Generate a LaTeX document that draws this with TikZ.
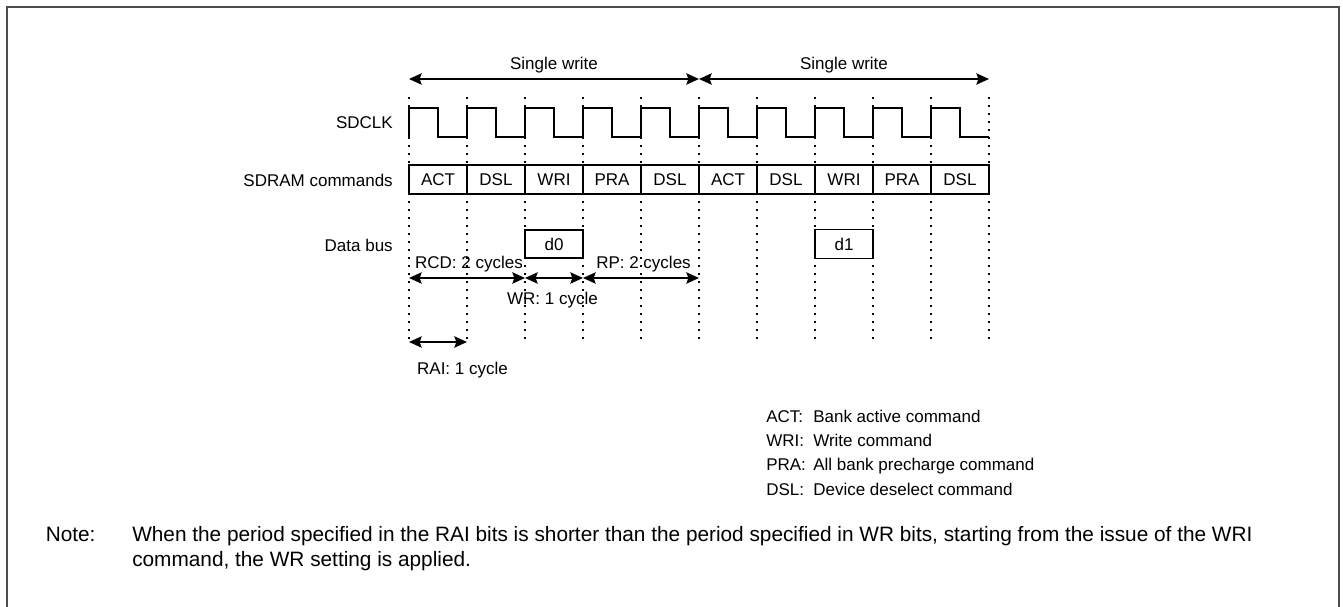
\documentclass[tikz,border=0pt]{standalone}
\usepackage{fontspec}
\setmainfont{Liberation Sans}
\usetikzlibrary{arrows.meta}
\begin{document}
\begin{tikzpicture}[x=0.75pt,y=-0.75pt,
  txt/.style={font=\fontsize{12.75}{15}\selectfont, inner sep=0pt},
  notetxt/.style={font=\fontsize{15.6}{19}\selectfont, inner sep=0pt},
  cmdbox/.style={draw, line width=1.1pt, minimum width=43.5pt, minimum height=21.75pt, inner sep=0pt, font=\fontsize{12.75}{15}\selectfont},
  gridline/.style={line width=1.5pt, dash pattern=on 1.3pt off 4.7pt},
  sig/.style={line width=1.1pt},
  dim/.style={line width=1.1pt, {Stealth[length=9.5pt,width=8.5pt,inset=1.5pt]}-{Stealth[length=9.5pt,width=8.5pt,inset=1.5pt]}},
  frame/.style={line width=1.5pt, draw=black!70}]
\useasboundingbox (0,0) rectangle (1343,607);
% frame
\coordinate (fbl) at (7,608);
\coordinate (ftl) at (7,7);
\coordinate (ftr) at (1339,7);
\coordinate (fbr) at (1339,608);
\draw[frame] (fbl) -- (ftl) -- (ftr) -- (fbr);
% grid
\foreach \i in {0,...,10} {
  \coordinate (gt\i) at ({409+58*\i},97);
  \coordinate (gb\i) at ({409+58*\i},343);
  \draw[gridline] (gt\i) -- (gb\i);
}
% clock
\draw[sig] (409,137) \foreach \i in {0,...,9} { -- ({409+58*\i},108) -- ({438+58*\i},108) -- ({438+58*\i},137) -- ({467+58*\i},137) };
% commands
\foreach \t [count=\i from 0] in {ACT,DSL,WRI,PRA,DSL,ACT,DSL,WRI,PRA,DSL}
  \node[cmdbox] (cmd\i) at ({438+58*\i},179.5) {\t};
% data bus
\node[cmdbox, minimum height=21pt] (d0) at (554,244) {d0};
\node[cmdbox, minimum height=22pt] (d1) at (844,244) {d1};
% row labels
\node[txt, anchor=base east] (lclk) at (393,128) {SDCLK};
\node[txt, anchor=base east] (lcmd) at (393,186) {SDRAM commands};
\node[txt, anchor=base east] (ldata) at (393,251) {Data bus};
% single write arrows
\coordinate (sw0) at (409,79);
\coordinate (sw1) at (699,79);
\coordinate (sw2) at (989,79);
\draw[dim] (sw0) -- (sw1);
\draw[dim] (sw1) -- (sw2);
\node[txt, anchor=base] (swl1) at (554,69) {Single write};
\node[txt, anchor=base] (swl2) at (844,69) {Single write};
% timing arrows
\coordinate (t0) at (409,278);
\coordinate (t2) at (525,278);
\coordinate (t3) at (583,278);
\coordinate (t5) at (699,278);
\coordinate (r0) at (409,342);
\coordinate (r1) at (467,342);
\draw[dim] (t0) -- (t2);
\draw[dim] (t2) -- (t3);
\draw[dim] (t3) -- (t5);
\draw[dim] (r0) -- (r1);
\node[txt, anchor=base] (rcd) at (469,268) {RCD: 2 cycles};
\node[txt, anchor=base] (rp) at (643.5,268) {RP: 2 cycles};
\node[txt, anchor=base] (wr) at (552.5,304) {WR: 1 cycle};
\node[txt, anchor=base] (rai) at (462.5,374) {RAI: 1 cycle};
% legend
\node[txt, anchor=base west] (k1) at (766,422) {ACT:};
\node[txt, anchor=base west] (v1) at (813,422) {Bank active command};
\node[txt, anchor=base west] (k2) at (766,446) {WRI:};
\node[txt, anchor=base west] (v2) at (813,446) {Write command};
\node[txt, anchor=base west] (k3) at (766,470.5) {PRA:};
\node[txt, anchor=base west] (v3) at (813,470.5) {All bank precharge command};
\node[txt, anchor=base west] (k4) at (766,495) {DSL:};
\node[txt, anchor=base west] (v4) at (813,495) {Device deselect command};
% note
\node[notetxt, anchor=base west] (nlab) at (45.5,541.5) {Note:};
\node[notetxt, anchor=base west] (n1) at (132,541.5) {When the period specified in the RAI bits is shorter than the period specified in WR bits, starting from the issue of the WRI};
\node[notetxt, anchor=base west] (n2) at (132,566.5) {command, the WR setting is applied.};
\end{tikzpicture}
\end{document}
